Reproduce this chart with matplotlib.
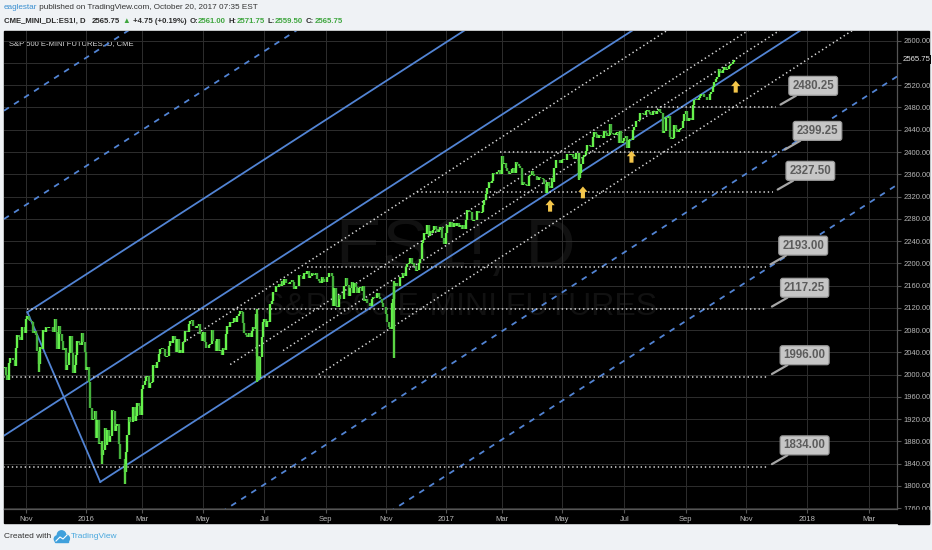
import numpy as np
import matplotlib.pyplot as plt
from matplotlib.collections import LineCollection
from matplotlib.patches import Rectangle, Circle

FONT = ['Liberation Sans', 'DejaVu Sans']

# trading calendar (NYSE holidays) and last bar of the chart
holidays = ['2015-11-26', '2015-12-25', '2016-01-01', '2016-01-18', '2016-02-15',
            '2016-03-25', '2016-05-30', '2016-07-04', '2016-09-05', '2016-11-24',
            '2016-12-26', '2017-01-02', '2017-01-16', '2017-02-20', '2017-04-14',
            '2017-05-29', '2017-07-04', '2017-09-04']
last_bar = '2017-10-20'

# daily closes ES1!, 2015-10-08 .. 2017-10-20
closes_2015 = [2009, 2011, 2013, 2000, 1990, 2020, 2029, 2030, 2027, 2015, 2048, 2071, 2067, 2062, 2086, 2085, 2075,
               2100, 2106, 2098, 2096, 2095, 2075, 2078, 2071, 2042, 2019, 2049, 2046, 2080, 2077, 2085, 2083, 2085, 2085, 2086, 2076,
               2099, 2076, 2046, 2088, 2073, 2060, 2044, 2048, 2008, 2018, 2039, 2069, 2038, 2002, 2017, 2035, 2060, 2057, 2053, 2074, 2059, 2040]
closes_2016 = [2009, 2013, 1986, 1939, 1918, 1920, 1935, 1886, 1918, 1876, 1877, 1855, 1865, 1903, 1873, 1900, 1879, 1889, 1936,
               1935, 1899, 1908, 1911, 1876, 1849, 1848, 1848, 1825, 1861, 1892, 1923, 1914, 1914, 1941, 1917, 1926, 1948, 1944, 1928,
               1974, 1982, 1989, 1996, 1998, 1975, 1985, 1986, 2018, 2016, 2012, 2023, 2037, 2046, 2048, 2046, 2033, 2032, 2033, 2051, 2060, 2056,
               2069, 2062, 2041, 2063, 2038, 2044, 2038, 2058, 2078, 2079, 2077, 2090, 2097, 2098, 2088, 2088, 2084, 2088, 2091, 2072, 2061,
               2077, 2059, 2047, 2047, 2053, 2055, 2080, 2061, 2060, 2043, 2063, 2043, 2044, 2036, 2048, 2044, 2072, 2087, 2086, 2095, 2093,
               2095, 2101, 2095, 2105, 2108, 2115, 2112, 2092, 2075, 2071, 2068, 2074, 2067, 2079, 2085, 2081, 2109, 2033, 1996, 2032, 2067, 2095,
               2099, 2085, 2096, 2094, 2126, 2133, 2148, 2148, 2160, 2158, 2163, 2160, 2169, 2161, 2171, 2165, 2165, 2163, 2166, 2170,
               2167, 2153, 2160, 2160, 2179, 2177, 2178, 2172, 2182, 2180, 2186, 2174, 2178, 2183, 2180, 2179, 2183, 2171, 2169, 2165, 2176, 2172, 2167,
               2167, 2176, 2183, 2182, 2177, 2124, 2155, 2123, 2122, 2143, 2135, 2135, 2136, 2159, 2173, 2161, 2142, 2156, 2167, 2147, 2164,
               2157, 2147, 2156, 2157, 2150, 2160, 2133, 2135, 2129, 2129, 2123, 2136, 2140, 2137, 2137, 2147, 2139, 2135, 2129, 2122, 2122,
               2108, 2094, 2085, 2081, 2128, 2136, 2159, 2164, 2160, 2160, 2176, 2173, 2183, 2178, 2194, 2199, 2201, 2209, 2198, 2201, 2195,
               2187, 2188, 2201, 2208, 2237, 2242, 2255, 2253, 2268, 2249, 2258, 2254, 2259, 2267, 2261, 2257, 2260, 2265, 2246, 2245, 2235]
closes_2017 = [2255, 2268, 2266, 2274, 2266, 2266, 2272, 2267, 2272, 2265, 2269, 2261, 2268, 2262, 2277, 2295, 2294, 2292, 2278, 2276,
               2277, 2278, 2294, 2290, 2290, 2292, 2305, 2313, 2325, 2335, 2346, 2344, 2348, 2362, 2360, 2361, 2364, 2367, 2361,
               2393, 2379, 2380, 2372, 2365, 2360, 2362, 2370, 2371, 2363, 2382, 2379, 2375, 2371, 2341, 2346, 2343, 2341, 2339, 2356, 2358, 2365, 2360,
               2356, 2357, 2350, 2355, 2353, 2354, 2351, 2342, 2326, 2346, 2339, 2335, 2353, 2346, 2371, 2386, 2385, 2386, 2381,
               2385, 2388, 2385, 2386, 2396, 2396, 2394, 2397, 2391, 2388, 2399, 2398, 2354, 2363, 2379, 2391, 2395, 2401, 2412, 2413, 2410, 2409,
               2427, 2436, 2433, 2426, 2430, 2431, 2429, 2426, 2437, 2435, 2429, 2430, 2450, 2434, 2433, 2431, 2435, 2436, 2416, 2437, 2417, 2420,
               2426, 2429, 2407, 2422, 2424, 2422, 2440, 2445, 2456, 2456, 2457, 2471, 2470, 2469, 2467, 2474, 2475, 2472, 2469, 2467,
               2473, 2474, 2469, 2474, 2478, 2472, 2471, 2435, 2438, 2463, 2462, 2465, 2427, 2423, 2425, 2449, 2441, 2436, 2440, 2441, 2443, 2455, 2469,
               2474, 2455, 2462, 2462, 2458, 2485, 2493, 2495, 2493, 2497, 2501, 2504, 2505, 2498, 2499, 2494, 2494, 2504, 2507, 2516,
               2526, 2532, 2535, 2549, 2546, 2542, 2548, 2552, 2548, 2550, 2555, 2557, 2558, 2561, 2565.75]

# long wicks visible on the chart
wick_dates = ['2015-11-13', '2016-01-20', '2016-02-11', '2016-06-24', '2016-06-27', '2016-11-09', '2017-05-17']
wick_lows = [2004, 1840, 1804, 1986, 1991, 2030, 2350]
wick_highs = [2040, 1880, 1840, 2117, 2032, 2168, 2398]

# horizontal levels with their callouts
level_prices = [2480.25, 2399.25, 2327.50, 2193.00, 2117.25, 1996.00, 1834.00]
level_start = ['2017-07-26', '2017-02-28', '2016-12-02', '2016-08-15', '2015-11-03', '2015-10-01', '2015-10-01']
level_end = ['2017-11-30', '2017-12-05', '2017-11-28', '2017-11-21', '2017-11-22', '2017-11-22', '2017-11-22']

# channel: pivot high, pivot low, slope in points per bar
fork_dates = ['2015-11-03', '2016-01-19']
fork_prices = [2112.0, 1807.0]
fork_slope = 1.655

# dotted inner rays (start point)
ray_dates = ['2016-04-12', '2016-05-27', '2016-07-21', '2016-08-25']
ray_prices = [2057.5, 2018.0, 2043.0, 2000.0]

# yellow arrows (tip)
arrow_dates = ['2017-04-19', '2017-05-22', '2017-07-11', '2017-10-23']
arrow_prices = [2314, 2338, 2402, 2528]

month_ticks = ['2015-11', '2016-01', '2016-03', '2016-05', '2016-07', '2016-09', '2016-11', '2017-01',
               '2017-03', '2017-05', '2017-07', '2017-09', '2017-11', '2018-01', '2018-03']
month_labels = ['Nov', '2016', 'Mar', 'May', 'Jul', 'Sep', 'Nov', '2017', 'Mar', 'May', 'Jul', 'Sep', 'Nov', '2018', 'Mar']

# ---- calendar -> bar index
days = np.arange(np.datetime64('2015-10-01'), np.datetime64('2018-04-01'))
past = days <= np.datetime64(last_bar)
ok = np.where(past, np.is_busday(days, holidays=holidays), np.is_busday(days))
axis_days = days[ok]


def bar(d):
    return float(np.searchsorted(axis_days, np.datetime64(d)))


closes = closes_2015 + closes_2016 + closes_2017
n = len(closes)
end = bar(last_bar)
xs = np.arange(end - n + 1, end + 1)

PXB = 1.428  # px per bar
x0 = bar('2015-11-02') - 22 / PXB
x1 = x0 + 893 / PXB

# ---- figure
fig = plt.figure(figsize=(9.32, 5.5), dpi=100)
fig.patch.set_facecolor('#eff2f5')
bg = fig.add_axes([0, 0, 1, 1], zorder=-1)
bg.set_xlim(0, 932)
bg.set_ylim(550, 0)
bg.axis('off')
bg.add_patch(Rectangle((4, 31), 925, 492, color='black'))

# watermark
bg.text(456, 249, 'ES1!, D', color='#111111', fontsize=50, family=FONT, ha='center', va='center')
bg.text(460, 307, 'S&P 500 E-MINI FUTURES', color='#111111', fontsize=23, family=FONT, ha='center', va='center')

ax = fig.add_axes([4 / 932, 41 / 550, 893 / 932, 478 / 550], zorder=1)
ax.set_facecolor('none')
ax.set_xlim(x0, x1)
ax.set_ylim(1758.3, 2617.5)

yt = np.arange(1760, 2601, 40)
ax.set_yticks(yt)
ax.set_yticklabels(['%.2f' % v if v != 2560 else '' for v in yt])
ax.yaxis.tick_right()
xt = [bar(m + '-01') for m in month_ticks]
ax.set_xticks(xt)
ax.set_xticklabels(month_labels)
ax.tick_params(axis='both', colors='#555555', length=3, width=0.8, labelcolor='#b8b8b8', labelsize=5.5, pad=2)
for lab in ax.get_xticklabels() + ax.get_yticklabels():
    lab.set_family(FONT)
ax.grid(True, color='#2e2e2e', lw=0.7)
ax.set_axisbelow(True)
for s in ['top', 'left']:
    ax.spines[s].set_visible(False)
for s in ['right', 'bottom']:
    ax.spines[s].set_color('#555555')
    ax.spines[s].set_linewidth(0.9)

# ---- price bars
segs, cols = [], []
prev = closes[0]
for x, c in zip(xs, closes):
    segs.append([(x, prev), (x, c)])
    cols.append('#66f24c' if c >= prev else '#44b03c')
    prev = c
for d, lo, hi in zip(wick_dates, wick_lows, wick_highs):
    segs.append([(bar(d), lo), (bar(d), hi)])
    cols.append('#5ad444')
ax.add_collection(LineCollection(segs, colors=cols, linewidths=1.7, zorder=4))

# ---- channel lines
BLUE = '#5284d4'
ia, ib = bar(fork_dates[0]), bar(fork_dates[1])
pa, pb = fork_prices
width = pa + fork_slope * (ib - ia) - pb


def up(x):
    return pa + fork_slope * (x - ia)


def lo(x):
    return pb + fork_slope * (x - ib)


ax.plot([ia, x1], [up(ia), up(x1)], color=BLUE, lw=1.3, zorder=3)
ax.plot([ib, x1], [lo(ib), lo(x1)], color=BLUE, lw=1.3, zorder=3)
ax.plot([x0, x1], [(up(x0) + lo(x0)) / 2, (up(x1) + lo(x1)) / 2], color=BLUE, lw=1.3, zorder=3)
ax.plot([ia, ib], [pa, pb], color=BLUE, lw=1.3, zorder=3)
for k in [0.5, 1.0]:
    ax.plot([x0, x1], [up(x0) + k * width, up(x1) + k * width], color=BLUE, lw=1.3,
            dashes=(3.2, 3.4), zorder=3)
    ax.plot([x0, x1], [lo(x0) - k * width, lo(x1) - k * width], color=BLUE, lw=1.3,
            dashes=(3.2, 3.4), zorder=3)

# ---- dotted rays
for d, p in zip(ray_dates, ray_prices):
    xr = bar(d)
    ax.plot([xr, x1], [p, p + fork_slope * (x1 - xr)], color='#dcdcdc', lw=1.1,
            dashes=(0.9, 1.9), zorder=3)

# ---- horizontal levels + callouts
for p, s, e in zip(level_prices, level_start, level_end):
    xa, xb = bar(s), bar(e)
    ax.plot([xa, xb], [p, p], color='#dcdcdc', lw=1.1, dashes=(0.9, 1.9), zorder=3)
    ax.annotate('%.2f' % p, xy=(xb, p), xytext=(27, 15.5), textcoords='offset points',
                ha='center', va='center', fontsize=8.3, fontweight='bold', color='#5c5c5c', family=FONT,
                bbox=dict(boxstyle='round,pad=0.3,rounding_size=0.2', fc='#c6c6c6', ec='#9c9c9c', lw=0.9),
                arrowprops=dict(arrowstyle='-', color='#a6a6a6', lw=1.6, shrinkA=0, shrinkB=4),
                zorder=6, annotation_clip=False)

# ---- yellow arrows
for d, p in zip(arrow_dates, arrow_prices):
    ax.annotate('', xy=(bar(d), p), xytext=(0, -8.5), textcoords='offset points',
                arrowprops=dict(arrowstyle='simple,head_length=0.55,head_width=0.95,tail_width=0.42',
                                mutation_scale=7, shrinkA=0, shrinkB=0,
                                color='#f4c64a', lw=0), zorder=6)

# last price on the scale
ax.text(1.006, 2565.75, '2565.75', transform=ax.get_yaxis_transform(), fontsize=5.6, color='#e6e6e6',
        family=FONT, va='center', ha='left', bbox=dict(fc='black', ec='none', pad=0.6), clip_on=False)

# ---- cover strip under price scale
ov = fig.add_axes([0, 0, 1, 1], zorder=3)
ov.set_xlim(0, 932)
ov.set_ylim(550, 0)
ov.axis('off')
ov.add_patch(Rectangle((898, 509.5), 31, 14, color='black'))

# ---- header
r = fig.canvas.get_renderer()


def run(pieces, x, y, size, weight='normal'):
    for s, c in pieces:
        if s == ' ':
            x += size * 0.5
            continue
        t = bg.text(x, y, s, color=c, fontsize=size, fontweight=weight, family=FONT, va='center', ha='left')
        x = t.get_window_extent(r).x1
    return x


GREEN = '#3fa63f'
DARK = '#2b2b2b'
xe = run([('eaglestar', '#3a8fd0')], 4, 7.5, 5.9)
run([(' published on TradingView.com, October 20, 2017 07:35 EST', '#333333')], xe, 7.5, 5.9)
run([('CME_MINI_DL:ES1!, D', DARK), (' ', DARK), (' ', DARK), ('2565.75', DARK), (' ', DARK),
     ('\u25B2', GREEN), (' ', DARK), ('+4.75 (+0.19%)', DARK), (' ', DARK),
     ('O:', DARK), ('2561.00', GREEN), (' ', DARK), ('H:', DARK), ('2571.75', GREEN), (' ', DARK),
     ('L:', DARK), ('2559.50', GREEN), (' ', DARK), ('C:', DARK), ('2565.75', GREEN)], 4, 21.5, 5.6, 'bold')

bg.text(9, 44, 'S&P 500 E-MINI FUTURES, D, CME', color='#d8d8d8', fontsize=5.5, family=FONT, va='center', ha='left')

# ---- footer
bg.text(4, 537, 'Created with', color='#333333', fontsize=6.0, family=FONT, va='center', ha='left')
for cx, cy, rr in [(57.5, 539, 3.2), (61.5, 535, 4.2), (66, 538.5, 3.4)]:
    bg.add_patch(Circle((cx, cy), rr, color='#3fa0dc'))
bg.add_patch(Rectangle((55, 538), 13, 4, color='#3fa0dc'))
bg.plot([56, 60, 63, 67], [541, 537, 539, 535], color='white', lw=0.8)
bg.text(71, 537, 'TradingView', color='#49a8de', fontsize=6.0, family=FONT, va='center', ha='left')

fig.savefig('out.png', dpi=100, facecolor=fig.get_facecolor())
